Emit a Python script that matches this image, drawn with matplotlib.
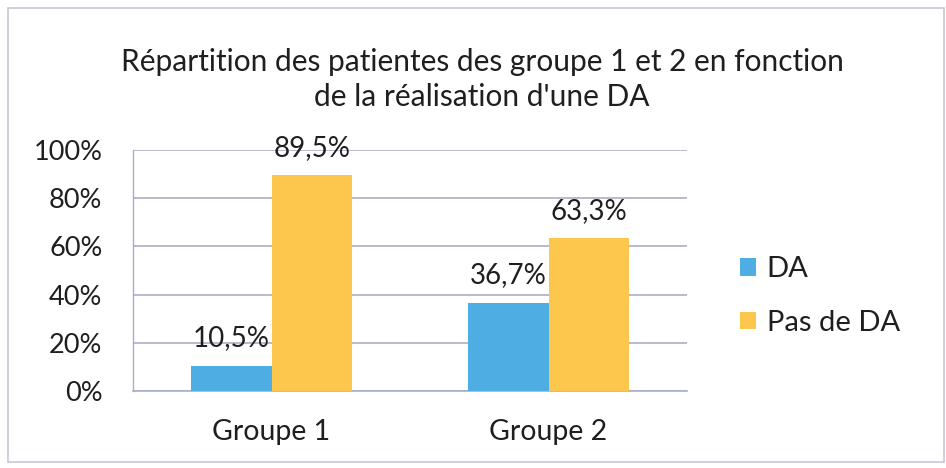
import matplotlib.pyplot as plt
import numpy as np
from matplotlib.patches import Rectangle

groups = ["Groupe 1", "Groupe 2"]
series = ["DA", "Pas de DA"]
da = [10.5, 36.7]
pas_de_da = [89.5, 63.3]
ticks = [0, 20, 40, 60, 80, 100]

blue = "#4EAEE3"
orange = "#FDC74E"
grid_col = "#A9AECB"
text_col = "#1F1F1F"

plt.rcParams['font.family'] = ['Lato', 'DejaVu Sans']

fig = plt.figure(figsize=(9.46, 4.68), dpi=100)
fig.patches.append(Rectangle((8/946, 6/468), 936/946, 454/468, transform=fig.transFigure,
                             fill=False, edgecolor="#C5CAD8", linewidth=1.2))

ax = fig.add_axes([133/946, 1-391/468, 554/946, 241/468])
x = np.arange(len(groups))
w = 0.29
b1 = ax.bar(x - w/2, da, w, color=blue, label=series[0], zorder=3)
b2 = ax.bar(x + w/2, pas_de_da, w, color=orange, label=series[1], zorder=3)

for bars, vals in [(b1, da), (b2, pas_de_da)]:
    for rect, v in zip(bars, vals):
        ax.text(rect.get_x() + rect.get_width()/2, v + 6, f"{v:.1f}%".replace(".", ","),
                ha="center", va="bottom", fontsize=20, color=text_col)

ax.set_xlim(-0.5, 1.5)
ax.set_ylim(0, 100)
ax.set_yticks(ticks)
ax.set_yticklabels([f"{t}%" for t in ticks], fontsize=19.5, color=text_col)
ax.set_xticks(x)
ax.set_xticklabels(groups, fontsize=20.5, color=text_col)
ax.tick_params(axis="y", length=0, pad=22)
ax.tick_params(axis="x", length=0, pad=20)
ax.yaxis.grid(True, color=grid_col, linewidth=1.2, zorder=0)
for s in ["top", "right"]:
    ax.spines[s].set_visible(False)
ax.spines["left"].set_color(grid_col)
ax.spines["bottom"].set_color(grid_col)
ax.spines["left"].set_linewidth(1.0)
ax.spines["bottom"].set_linewidth(1.2)

fig.text(482/946, 1-62/468, "Répartition des patientes des groupe 1 et 2 en fonction",
         ha="center", va="center", fontsize=21.5, color=text_col)
fig.text(482/946, 1-97/468, "de la réalisation d'une DA",
         ha="center", va="center", fontsize=21.5, color=text_col)

fig.legend(handles=[b1, b2], labels=series, loc="center left",
           bbox_to_anchor=(714/946, 1-296/468), frameon=False, fontsize=21,
           handlelength=0.55, handleheight=0.55, handletextpad=0.35, labelspacing=0.95,
           labelcolor=text_col)

fig.savefig("out.png", dpi=100)
